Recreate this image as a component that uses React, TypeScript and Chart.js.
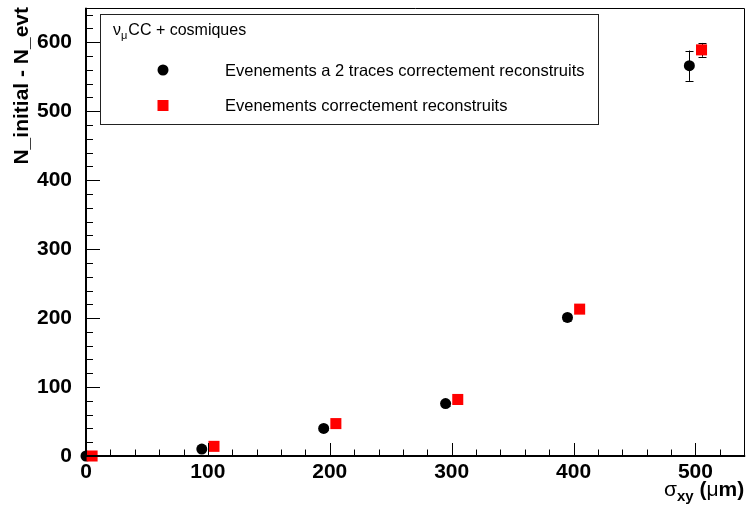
import React, { useEffect, useRef } from 'react';
import { Chart, registerables } from 'chart.js';

Chart.register(...registerables);

// ---- data ----
const sigmaTwoTracks = [0, 95, 195, 295, 395, 495];
const nTwoTracks = [0, 10, 40, 76, 201, 566];
const errTwoTracks = [0, 1, 2, 3, 5, 22];

const sigmaAll = [5, 105, 205, 305, 405, 505];
const nAll = [0, 14, 47, 82, 213, 589];
const errAll = [0, 1, 2, 3, 5, 10];

const xMajorTicks = [0, 100, 200, 300, 400, 500];
const yMajorTicks = [0, 100, 200, 300, 400, 500, 600];

const legendHeaderMain = 'ν';
const legendHeaderSub = 'μ';
const legendHeaderRest = 'CC + cosmiques';
const labelTwoTracks = 'Evenements a 2 traces correctement reconstruits';
const labelAll = 'Evenements correctement reconstruits';
const yTitle = 'N_initial - N_evt';

const FONT = '"Liberation Sans", Arial, Helvetica, sans-serif';

const rootPlugin = {
  id: 'rootStyle',
  beforeDatasetsDraw(chart: any) {
    const { ctx, scales } = chart;
    const xs = scales.x, ys = scales.y;
    const sets = [
      [sigmaTwoTracks, nTwoTracks, errTwoTracks],
      [sigmaAll, nAll, errAll],
    ];
    ctx.save();
    ctx.strokeStyle = '#000';
    ctx.lineWidth = 1;
    for (const [sx, sy, se] of sets) {
      for (let i = 0; i < sx.length; i++) {
        if (!se[i]) continue;
        const px = Math.round(xs.getPixelForValue(sx[i])) + 0.5;
        const top = ys.getPixelForValue(sy[i] + se[i]);
        const bot = ys.getPixelForValue(sy[i] - se[i]);
        ctx.beginPath();
        ctx.moveTo(px, top);
        ctx.lineTo(px, bot);
        ctx.moveTo(px - 4, Math.round(top) + 0.5);
        ctx.lineTo(px + 4, Math.round(top) + 0.5);
        ctx.moveTo(px - 4, Math.round(bot) + 0.5);
        ctx.lineTo(px + 4, Math.round(bot) + 0.5);
        ctx.stroke();
      }
    }
    ctx.restore();
  },
  afterDraw(chart: any) {
    const { ctx, chartArea, scales } = chart;
    const xs = scales.x, ys = scales.y;
    const { left, right, top, bottom } = chartArea;
    ctx.save();

    // frame
    ctx.strokeStyle = '#000';
    ctx.lineWidth = 1;
    ctx.beginPath();
    ctx.moveTo(left, Math.round(top) + 0.5);
    ctx.lineTo(Math.round(right) + 0.5, Math.round(top) + 0.5);
    ctx.lineTo(Math.round(right) + 0.5, bottom);
    ctx.stroke();

    // axes
    ctx.lineWidth = 2;
    ctx.beginPath();
    ctx.moveTo(left, bottom);
    ctx.lineTo(right + 1, bottom);
    ctx.moveTo(left, bottom);
    ctx.lineTo(left, top);
    ctx.stroke();

    // ticks (inside)
    ctx.lineWidth = 1;
    ctx.beginPath();
    for (let v = 0; v <= xs.max + 0.001; v += 20) {
      const px = Math.round(xs.getPixelForValue(v)) + 0.5;
      const len = v % 100 === 0 ? 13 : 6.5;
      ctx.moveTo(px, bottom);
      ctx.lineTo(px, bottom - len);
    }
    for (let v = 0; v <= ys.max + 0.001; v += 20) {
      const py = Math.round(ys.getPixelForValue(v)) + 0.5;
      const len = v % 100 === 0 ? 14 : 7;
      ctx.moveTo(left, py);
      ctx.lineTo(left + len, py);
    }
    ctx.stroke();

    // y title
    ctx.fillStyle = '#000';
    ctx.font = `bold 21px ${FONT}`;
    ctx.save();
    ctx.translate(28, 7);
    ctx.rotate(-Math.PI / 2);
    ctx.textAlign = 'right';
    ctx.textBaseline = 'alphabetic';
    ctx.fillText(yTitle, 0, 0);
    ctx.restore();

    // x title: sigma_xy (mum)
    const fBig = `bold 21px ${FONT}`;
    const fSym = `21px ${FONT}`;
    const fSub = `bold 15px ${FONT}`;
    const parts: [string, string, number][] = [
      ['σ', fSym, 0],
      ['xy', fSub, 5],
      [' (', fBig, 0],
      ['μ', fSym, 0],
      ['m)', fBig, 0],
    ];
    let total = 0;
    for (const [t, f] of parts) { ctx.font = f; total += ctx.measureText(t).width; }
    let cx = right - total;
    ctx.textAlign = 'left';
    ctx.textBaseline = 'alphabetic';
    for (const [t, f, dy] of parts) {
      ctx.font = f;
      ctx.fillText(t, cx, 496 + dy);
      cx += ctx.measureText(t).width;
    }

    // legend box
    ctx.fillStyle = '#fff';
    ctx.fillRect(100.5, 14.5, 498, 110);
    ctx.strokeStyle = '#222';
    ctx.lineWidth = 1;
    ctx.strokeRect(100.5, 14.5, 498, 110);

    ctx.fillStyle = '#000';
    ctx.textBaseline = 'alphabetic';
    let hx = 113;
    ctx.font = `16px ${FONT}`;
    ctx.fillText(legendHeaderMain, hx, 35);
    hx += ctx.measureText(legendHeaderMain).width;
    ctx.font = `11px ${FONT}`;
    ctx.fillText(legendHeaderSub, hx, 39);
    hx += ctx.measureText(legendHeaderSub).width + 1;
    ctx.font = `16px ${FONT}`;
    ctx.fillText(legendHeaderRest, hx, 35);

    // legend markers
    ctx.beginPath();
    ctx.arc(163, 70, 5.5, 0, Math.PI * 2);
    ctx.fill();
    ctx.fillStyle = '#ff0000';
    ctx.fillRect(157.5, 100, 11, 11);

    ctx.fillStyle = '#000';
    ctx.font = `16.5px ${FONT}`;
    ctx.textBaseline = 'middle';
    ctx.fillText(labelTwoTracks, 225, 71);
    ctx.fillText(labelAll, 225, 106);

    ctx.restore();
  },
};

export default function App() {
  const ref = useRef<HTMLCanvasElement>(null);
  useEffect(() => {
    if (!ref.current) return;
    const chart = new Chart(ref.current, {
      type: 'scatter',
      data: {
        datasets: [
          {
            label: labelTwoTracks,
            data: sigmaTwoTracks.map((x, i) => ({ x, y: nTwoTracks[i] })),
            pointStyle: 'circle',
            pointRadius: 5.5,
            backgroundColor: '#000',
            borderWidth: 0,
            clip: false,
            order: 1,
          },
          {
            label: labelAll,
            data: sigmaAll.map((x, i) => ({ x, y: nAll[i] })),
            pointStyle: 'rect',
            pointRadius: 7.8,
            backgroundColor: '#ff0000',
            borderWidth: 0,
            clip: false,
            order: 0,
          },
        ],
      },
      options: {
        responsive: false,
        maintainAspectRatio: false,
        animation: false,
        layout: { padding: { top: 5, right: 6, left: 0, bottom: 0 } },
        plugins: { legend: { display: false }, tooltip: { enabled: false } },
        scales: {
          x: {
            type: 'linear',
            min: 0,
            max: 540,
            grid: { display: false },
            border: { display: false },
            afterBuildTicks: (s: any) => { s.ticks = xMajorTicks.map((v) => ({ value: v })); },
            ticks: {
              color: '#000',
              padding: -4,
              maxRotation: 0,
              autoSkip: false,
              font: { family: FONT, size: 21, weight: 'bold' },
            },
            afterFit: (s: any) => { s.height = 52; s.paddingLeft = 0; s.paddingRight = 0; },
          },
          y: {
            type: 'linear',
            min: 0,
            max: 650,
            grid: { display: false },
            border: { display: false },
            afterBuildTicks: (s: any) => { s.ticks = yMajorTicks.map((v) => ({ value: v })); },
            ticks: {
              color: '#000',
              padding: 6,
              autoSkip: false,
              font: { family: FONT, size: 21, weight: 'bold' },
            },
            afterFit: (s: any) => { s.width = 86; s.paddingTop = 0; s.paddingBottom = 0; },
          },
        },
      },
      plugins: [rootPlugin],
    } as any);
    return () => chart.destroy();
  }, []);
  return (
    <div style={{ position: 'fixed', left: 0, top: 0, width: 752, height: 508, background: '#fff' }}>
      <canvas ref={ref} width={752} height={508} style={{ display: 'block' }} />
    </div>
  );
}
